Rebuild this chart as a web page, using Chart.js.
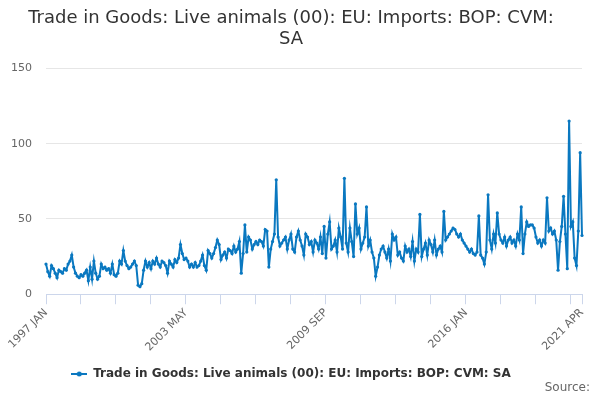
<!DOCTYPE html>
<html>
<head>
<meta charset="utf-8">
<script src="https://cdn.jsdelivr.net/npm/chart.js@4"></script>
<style>
  body { margin: 0; background: #fff; }
  #wrap { width: 600px; height: 400px; }
</style>
</head>
<body>
<div id="wrap"><canvas id="chart_1"></canvas></div>
<script>
var seriesName = 'Trade in Goods: Live animals (00): EU: Imports: BOP: CVM: SA';
var titleLines = ['Trade in Goods: Live animals (00): EU: Imports: BOP: CVM:', 'SA'];
var creditText = 'Source:';
var years = [1997, 1998, 1999, 2000, 2001, 2002, 2003, 2004, 2005, 2006, 2007, 2008,
             2009, 2010, 2011, 2012, 2013, 2014, 2015, 2016, 2017, 2018, 2019, 2020, 2021];
var months = ['JAN', 'FEB', 'MAR', 'APR', 'MAY', 'JUN', 'JUL', 'AUG', 'SEP', 'OCT', 'NOV', 'DEC'];
var shownLabels = ['1997 JAN', '2003 MAY', '2009 SEP', '2016 JAN', '2021 APR'];
var yTicks = [0, 50, 100, 150];

// one row per year, JAN..DEC (2021 ends in APR)
var values = [
  20, 15, 12, 19, 17, 14, 11, 16, 15, 14, 17, 16,
  20, 22, 26, 18, 14, 12, 11, 13, 12, 14, 16, 9,
  18, 10, 22, 14, 10, 12, 20, 17, 18, 16, 17, 14,
  20, 13, 12, 14, 22, 20, 29, 22, 19, 17, 18, 20,
  22, 19, 6, 5, 7, 16, 22, 18, 21, 17, 22, 20,
  24, 20, 18, 22, 21, 19, 14, 22, 20, 18, 23, 21,
  24, 33, 27, 23, 24, 22, 18, 20, 18, 21, 18, 19,
  22, 26, 19, 16, 29, 27, 24, 27, 31, 36, 33, 23,
  26, 28, 24, 30, 29, 27, 32, 28, 30, 35, 14, 27,
  46, 28, 38, 36, 30, 33, 35, 33, 36, 35, 32, 43,
  42, 18, 30, 35, 40, 76, 38, 32, 34, 36, 38, 30,
  36, 40, 30, 28, 38, 42, 36, 32, 26, 40, 38, 33,
  35, 28, 36, 34, 30, 38, 27, 45, 24, 40, 48, 30,
  32, 36, 28, 44, 38, 30, 77, 34, 28, 44, 35, 25,
  60, 40, 44, 30, 34, 38, 58, 32, 36, 28, 24, 12,
  18, 26, 30, 32, 28, 24, 30, 22, 40, 36, 38, 26,
  28, 24, 22, 32, 28, 30, 25, 35, 22, 30, 28, 53,
  25, 30, 34, 26, 36, 33, 28, 36, 26, 30, 32, 28,
  55, 36, 38, 40, 42, 44, 43, 40, 38, 40, 36, 34,
  32, 30, 28, 30, 27, 26, 28, 52, 26, 24, 20, 28,
  66, 36, 30, 40, 34, 54, 40, 36, 34, 38, 32, 36,
  38, 34, 36, 32, 40, 36, 58, 27, 40, 48, 45, 46,
  46, 44, 38, 34, 36, 32, 36, 34, 64, 42, 44, 40,
  42, 36, 16, 35, 45, 65, 40, 17, 115, 45, 48, 24,
  19, 42, 94, 39
];

var labels = [];
years.forEach(function(y) {
  months.forEach(function(m) {
    if (labels.length < values.length) labels.push(y + ' ' + m);
  });
});

var lineColor = '#0a78c0';
var tickColor = '#ccd6eb';
var font = "'DejaVu Sans', Verdana, sans-serif";

// legend symbol: short line with a dot
var legendIcon = document.createElement('canvas');
legendIcon.width = 16;
legendIcon.height = 8;
(function() {
  var c = legendIcon.getContext('2d');
  c.strokeStyle = lineColor;
  c.lineWidth = 2;
  c.beginPath();
  c.moveTo(0, 4);
  c.lineTo(16, 4);
  c.stroke();
  c.fillStyle = lineColor;
  c.beginPath();
  c.arc(8, 4, 2.5, 0, Math.PI * 2);
  c.fill();
})();

// "Source:" credit in the bottom right corner
var creditPlugin = {
  id: 'credit',
  afterDraw: function(chart) {
    var c = chart.ctx;
    c.save();
    c.font = '12px ' + font;
    c.fillStyle = '#666666';
    c.textAlign = 'right';
    c.textBaseline = 'middle';
    c.fillText(creditText, 590, 388);
    c.restore();
  }
};

var lastIndex = values.length - 1;

new Chart('chart_1', {
  type: 'line',
  data: {
    labels: labels,
    datasets: [{
      label: seriesName,
      data: values,
      borderColor: lineColor,
      backgroundColor: lineColor,
      borderWidth: 2,
      pointRadius: 1.6,
      pointHoverRadius: 2,
      pointBorderWidth: 0,
      tension: 0
    }]
  },
  plugins: [creditPlugin],
  options: {
    responsive: true,
    maintainAspectRatio: false,
    animation: false,
    layout: { padding: { left: 0, right: 18, top: 0, bottom: 10 } },
    plugins: {
      title: {
        display: true,
        text: titleLines,
        color: '#333333',
        font: { family: font, size: 18, weight: 'normal', lineHeight: 1.15 },
        padding: { top: 8, bottom: 19 }
      },
      legend: {
        position: 'bottom',
        labels: {
          usePointStyle: true,
          pointStyle: legendIcon,
          pointStyleWidth: 16,
          color: '#333333',
          font: { family: font, size: 12, weight: 'bold' },
          padding: 4
        }
      },
      tooltip: { enabled: false }
    },
    scales: {
      x: {
        afterFit: function(axis) { axis.height += 8; },
        ticks: {
          autoSkip: false,
          minRotation: 45,
          maxRotation: 45,
          color: '#666666',
          font: { family: font, size: 11 },
          padding: 2,
          callback: function(v, i) {
            var l = labels[i];
            return shownLabels.indexOf(l) >= 0 ? l : '';
          }
        },
        grid: {
          drawOnChartArea: false,
          drawTicks: true,
          tickLength: 10,
          color: function(ctx) {
            var i = ctx.index;
            return (i % 19 === 0 || i === lastIndex) ? tickColor : 'rgba(0,0,0,0)';
          }
        },
        border: { color: tickColor }
      },
      y: {
        min: 0,
        max: 150,
        afterBuildTicks: function(axis) {
          axis.ticks = yTicks.map(function(v) { return { value: v }; });
        },
        afterFit: function(axis) { axis.width = 46; },
        ticks: {
          color: '#666666',
          font: { family: font, size: 11 },
          padding: 14
        },
        grid: { color: '#e6e6e6', drawTicks: false },
        border: { display: false }
      }
    }
  }
});
</script>
</body>
</html>
